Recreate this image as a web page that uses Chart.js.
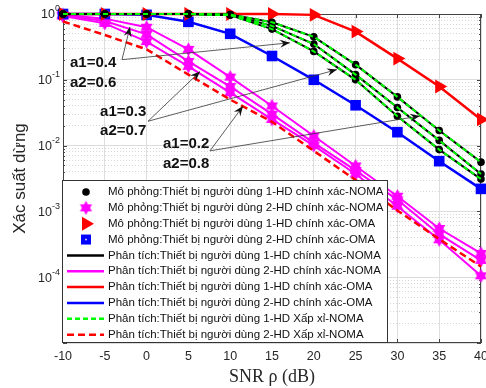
<!DOCTYPE html>
<html>
<head>
<meta charset="utf-8">
<script src="https://cdn.jsdelivr.net/npm/chart.js@4"></script>
<style>
  html, body { margin: 0; padding: 0; background: #fff; }
</style>
</head>
<body>
<canvas id="graficoOutage" width="486" height="388"></canvas>
<script>
// ---- datos ----
const snr = [-10, -5, 0, 5, 10, 15, 20, 25, 30, 35, 40];
const xTicks = [-10, -5, 0, 5, 10, 15, 20, 25, 30, 35, 40];
const yExps = [0, -1, -2, -3, -4, -5];

// Thiet bi 1 NOMA (a1 = 0.4, 0.3, 0.2)
const noma1A = [1, 1, 1, 1, 0.98, 0.75, 0.45, 0.17, 0.055, 0.017, 0.0056];
const noma1B = [1, 1, 1, 1, 0.97, 0.66, 0.35, 0.12, 0.038, 0.012, 0.0037];
const noma1C = [1, 1, 1, 1, 0.96, 0.59, 0.27, 0.10, 0.028, 0.0087, 0.0031];
// Thiet bi 2 NOMA
const noma2A = [0.97, 0.85, 0.63, 0.29, 0.11, 0.040, 0.014, 0.0049, 0.0017, 0.00055, 0.00023];
const noma2B = [0.95, 0.78, 0.49, 0.19, 0.079, 0.030, 0.011, 0.0042, 0.0015, 0.00045, 0.00018];
const noma2C = [0.93, 0.72, 0.38, 0.16, 0.064, 0.025, 0.010, 0.0037, 0.0012, 0.00037, 0.000105];
const noma2Approx = [0.77, 0.48, 0.29, 0.12, 0.05, 0.023, 0.0083, 0.003, 0.00103, 0.00038, 0.000145];
// OMA
const oma1 = [1, 1, 1, 1, 1, 1, 0.97, 0.54, 0.21, 0.079, 0.025];
const oma2 = [1, 1, 0.97, 0.76, 0.5, 0.23, 0.1, 0.041, 0.016, 0.0058, 0.0022];

const legendLabels = [
    "Mô phỏng:Thiết bị người dùng 1-HD chính xác-NOMA",
    "Mô phỏng:Thiết bị người dùng 2-HD chính xác-NOMA",
    "Mô phỏng:Thiết bị người dùng 1-HD chính xác-OMA",
    "Mô phỏng:Thiết bị người dùng 2-HD chính xác-OMA",
    "Phân tích:Thiết bị người dùng 1-HD chính xác-NOMA",
    "Phân tích:Thiết bị người dùng 2-HD chính xác-NOMA",
    "Phân tích:Thiết bị người dùng 1-HD chính xác-OMA",
    "Phân tích:Thiết bị người dùng 2-HD chính xác-OMA",
    "Phân tích:Thiết bị người dùng 1-HD Xấp xỉ-NOMA",
    "Phân tích:Thiết bị người dùng 2-HD Xấp xỉ-NOMA",
];

// notas: texto + punto de partida + puntas de flecha (coordenadas de datos, log10 en y)
const notas = [
    { text: ["a1=0.4", "a2=0.6"], tx: -9.16, ty: [-0.74, -1.04], from: [-2.94, -0.694], to: [[-1.99, -0.196], [17.15, -0.437]] },
    { text: ["a1=0.3", "a2=0.7"], tx: -5.57, ty: [-1.48, -1.78], from: [0.17, -1.63], to: [[6.39, -0.875], [22.77, -0.845]] },
    { text: ["a1=0.2", "a2=0.8"], tx: 1.96, ty: [-1.98, -2.27], from: [7.58, -2.08], to: [[11.53, -1.40], [32.7, -1.55]] },
];

const MAGENTA = "#ff00ff", VERDE = "#00ff00", ROJO = "#ff0000", AZUL = "#0000ff", NEGRO = "#000000";
const FUENTE = '"Liberation Sans", Arial, sans-serif';

function hexagram(size, color) {
    const c = document.createElement("canvas");
    c.width = c.height = size;
    const g = c.getContext("2d");
    const cx = size / 2, r = size / 2 - 0.5;
    g.fillStyle = color;
    [-Math.PI / 2, Math.PI / 2].forEach((off) => {
        g.beginPath();
        for (let k = 0; k < 3; k++) {
            const a = off + k * 2 * Math.PI / 3;
            const px = cx + r * Math.cos(a), py = cx + r * Math.sin(a);
            if (k === 0) g.moveTo(px, py); else g.lineTo(px, py);
        }
        g.closePath();
        g.fill();
    });
    return c;
}
const estrella = hexagram(15, MAGENTA);

const pts = (ys) => snr.map((x, i) => ({ x: x, y: ys[i] }));

const lineaNegra = (ys) => ({
    data: pts(ys), borderColor: NEGRO, backgroundColor: NEGRO, borderWidth: 2,
    pointStyle: "circle", pointRadius: 3.8, pointBorderWidth: 0, pointBackgroundColor: NEGRO,
});
const lineaVerde = (ys) => ({
    data: pts(ys), borderColor: VERDE, borderWidth: 2, borderDash: [5, 3], pointRadius: 0,
});
const lineaMagenta = (ys) => ({
    data: pts(ys), borderColor: MAGENTA, backgroundColor: MAGENTA, borderWidth: 2,
    pointStyle: estrella, pointRadius: 7,
});

const datasets = [
    lineaVerde(noma1A), lineaVerde(noma1B), lineaVerde(noma1C),
    lineaNegra(noma1A), lineaNegra(noma1B), lineaNegra(noma1C),
    {
        data: pts(oma1), borderColor: ROJO, backgroundColor: ROJO, borderWidth: 2.5,
        pointStyle: "triangle", pointRotation: 90, pointRadius: 8, pointBorderWidth: 0,
    },
    {
        data: pts(oma2), borderColor: AZUL, backgroundColor: AZUL, borderWidth: 2.5,
        pointStyle: "rect", pointRadius: 7.5, pointBorderWidth: 0,
    },
    {
        data: pts(noma2Approx), borderColor: ROJO, borderWidth: 2.5, borderDash: [7, 4], pointRadius: 0,
    },
    lineaMagenta(noma2A), lineaMagenta(noma2B), lineaMagenta(noma2C),
];
datasets.forEach((d, i) => { d.order = i; d.tension = 0; d.fill = false; d.clip = false; });

const esMayor = (v) => Math.abs(Math.log10(v) - Math.round(Math.log10(v))) < 1e-6;

function flecha(ctx, x0, y0, x1, y1) {
    ctx.beginPath();
    ctx.moveTo(x0, y0);
    ctx.lineTo(x1, y1);
    ctx.stroke();
    const a = Math.atan2(y1 - y0, x1 - x0), L = 10, W = 4;
    const c = Math.cos(a), s = Math.sin(a);
    ctx.beginPath();
    ctx.moveTo(x1, y1);
    ctx.lineTo(x1 - L * c + W * s, y1 - L * s - W * c);
    ctx.lineTo(x1 - 0.65 * L * c, y1 - 0.65 * L * s);
    ctx.lineTo(x1 - L * c - W * s, y1 - L * s + W * c);
    ctx.closePath();
    ctx.fill();
}

const decoracion = {
    id: "decoracion",
    beforeDatasetsDraw(chart) {
        // marco debajo de las series
        const { ctx, chartArea: a } = chart;
        const sx = chart.scales.x, sy = chart.scales.y;
        ctx.save();
        ctx.strokeStyle = "#444";
        ctx.lineWidth = 1;
        ctx.strokeRect(a.left + 0.5, a.top + 0.5, a.right - a.left - 1, a.bottom - a.top - 1);
        ctx.beginPath();
        xTicks.forEach((t) => {
            const px = Math.round(sx.getPixelForValue(t)) + 0.5;
            ctx.moveTo(px, a.bottom); ctx.lineTo(px, a.bottom - 4);
            ctx.moveTo(px, a.top); ctx.lineTo(px, a.top + 4);
        });
        sy.ticks.forEach((t) => {
            const py = Math.round(sy.getPixelForValue(t.value)) + 0.5;
            const len = esMayor(t.value) ? 4 : 2;
            ctx.moveTo(a.left, py); ctx.lineTo(a.left + len, py);
            ctx.moveTo(a.right, py); ctx.lineTo(a.right - len, py);
        });
        ctx.stroke();
        ctx.restore();
    },
    afterDraw(chart) {
        const { ctx, chartArea: a } = chart;
        const sx = chart.scales.x, sy = chart.scales.y;
        ctx.save();

        // etiquetas del eje x
        ctx.fillStyle = "#262626";
        ctx.font = "12.5px " + FUENTE;
        ctx.textAlign = "center";
        ctx.textBaseline = "middle";
        xTicks.forEach((t) => ctx.fillText(String(t), sx.getPixelForValue(t), a.bottom + 14));

        // etiquetas del eje y: 10^k
        yExps.forEach((e) => {
            if (e === -5) return;
            const py = sy.getPixelForValue(Math.pow(10, e));
            ctx.font = "9px " + FUENTE;
            const sup = String(e);
            const ws = ctx.measureText(sup).width;
            ctx.textAlign = "left";
            const right = a.left - 3;
            ctx.fillText(sup, right - ws, py - 5);
            ctx.font = "12.5px " + FUENTE;
            ctx.textAlign = "right";
            ctx.fillText("10", right - ws, py + 1);
        });

        // notas con flechas
        ctx.font = "bold 15px " + FUENTE;
        ctx.textAlign = "left";
        ctx.fillStyle = "#111";
        ctx.strokeStyle = "#333";
        ctx.lineWidth = 0.8;
        notas.forEach((n) => {
            const tx = sx.getPixelForValue(n.tx);
            n.text.forEach((t, i) => ctx.fillText(t, tx, sy.getPixelForValue(Math.pow(10, n.ty[i]))));
            const x0 = sx.getPixelForValue(n.from[0]), y0 = sy.getPixelForValue(Math.pow(10, n.from[1]));
            n.to.forEach((p) => flecha(ctx, x0, y0, sx.getPixelForValue(p[0]), sy.getPixelForValue(Math.pow(10, p[1]))));
        });

        // leyenda
        const L = { left: 62, top: 180, right: 388, bottom: 343 };
        ctx.fillStyle = "#fff";
        ctx.fillRect(L.left, L.top, L.right - L.left, L.bottom - L.top);
        ctx.strokeStyle = "#333";
        ctx.lineWidth = 1;
        ctx.strokeRect(L.left + 0.5, L.top + 0.5, L.right - L.left - 1, L.bottom - L.top - 1);
        const muestras = [
            { m: "circle", c: NEGRO }, { m: "star", c: MAGENTA }, { m: "tri", c: ROJO }, { m: "rect", c: AZUL },
            { l: NEGRO }, { l: MAGENTA }, { l: ROJO }, { l: AZUL },
            { l: VERDE, d: [5, 3] }, { l: ROJO, d: [7, 4] },
        ];
        const x1 = 67, x2 = 104, xm = 86;
        legendLabels.forEach((txt, i) => {
            const yy = 192 + i * 15.85;
            const s = muestras[i];
            if (s.l) {
                ctx.strokeStyle = s.l;
                ctx.lineWidth = 2.5;
                ctx.setLineDash(s.d || []);
                ctx.beginPath(); ctx.moveTo(x1, yy); ctx.lineTo(x2, yy); ctx.stroke();
                ctx.setLineDash([]);
            } else {
                ctx.fillStyle = s.c;
                if (s.m === "circle") {
                    ctx.beginPath(); ctx.arc(xm, yy, 3.8, 0, 2 * Math.PI); ctx.fill();
                } else if (s.m === "star") {
                    ctx.drawImage(estrella, xm - 7.5, yy - 7.5);
                } else if (s.m === "tri") {
                    ctx.beginPath();
                    ctx.moveTo(xm + 8, yy); ctx.lineTo(xm - 4, yy - 7); ctx.lineTo(xm - 4, yy + 7);
                    ctx.closePath(); ctx.fill();
                } else {
                    ctx.fillRect(xm - 5, yy - 5, 10, 10);
                    ctx.fillStyle = "#fff";
                    ctx.fillRect(xm - 0.75, yy - 0.75, 1.5, 1.5);
                }
            }
            ctx.fillStyle = "#111";
            ctx.font = "11.5px " + FUENTE;
            ctx.textAlign = "left";
            ctx.textBaseline = "middle";
            ctx.fillText(txt, 108, yy);
        });

        ctx.restore();
    },
};

const configGrafico = {
    type: "line",
    data: { datasets: datasets },
    options: {
        responsive: false,
        animation: false,
        layout: { autoPadding: false, padding: { top: 14, right: 5, left: 0, bottom: 0 } },
        plugins: { legend: { display: false }, tooltip: { enabled: false } },
        scales: {
            x: {
                type: "linear",
                min: -10,
                max: 40,
                afterBuildTicks: (scale) => { scale.ticks = xTicks.map((v) => ({ value: v })); },
                afterFit: (scale) => {
                    scale.height = 45;
                    scale.paddingLeft = 0;
                    scale.paddingRight = 0;
                },
                grid: { color: "#dedede", drawTicks: false },
                border: { display: false },
                ticks: { display: false },
                title: {
                    display: true,
                    text: "SNR ρ (dB)",
                    color: "#262626",
                    padding: { top: 0, bottom: 0 },
                    font: { family: '"Liberation Serif", "DejaVu Serif", serif', size: 18 },
                },
            },
            y: {
                type: "logarithmic",
                min: 1e-5,
                max: 1,
                afterBuildTicks: (scale) => {
                    const t = [];
                    yExps.forEach((e) => {
                        for (let m = 1; m <= 9; m++) {
                            const v = m * Math.pow(10, e);
                            if (v <= 1 + 1e-9 && v >= 1e-5) t.push({ value: v });
                        }
                    });
                    scale.ticks = t;
                },
                afterFit: (scale) => {
                    scale.width = 63;
                    scale.paddingTop = 0;
                    scale.paddingBottom = 0;
                },
                grid: {
                    drawTicks: false,
                    color: (c) => (c.tick && esMayor(c.tick.value) ? "#dcdcdc" : "#d6d6d6"),
                },
                border: {
                    display: false,
                    dash: (c) => (c.tick && !esMayor(c.tick.value) ? [1, 2] : []),
                },
                ticks: { display: false },
                title: {
                    display: true,
                    text: "Xác suất dừng",
                    color: "#262626",
                    padding: { top: 10, bottom: 0 },
                    font: { family: FUENTE, size: 17 },
                },
            },
        },
    },
    plugins: [decoracion],
};

const chartOutage = new Chart(document.getElementById("graficoOutage"), configGrafico);
</script>
</body>
</html>
